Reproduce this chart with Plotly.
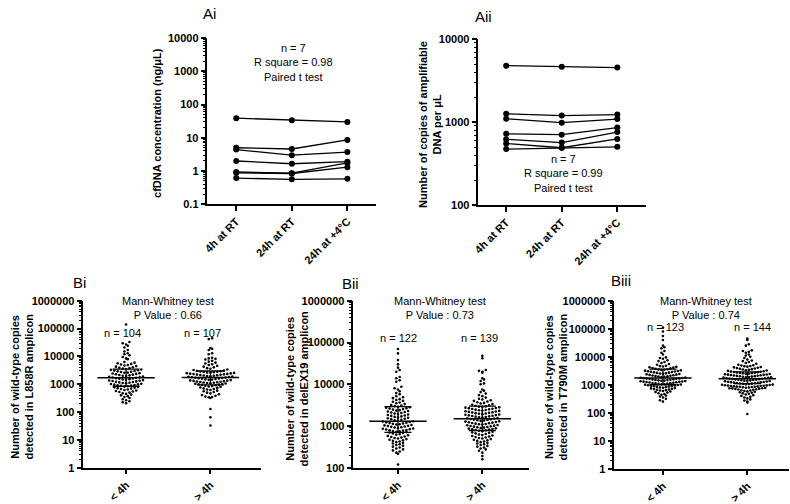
import numpy as np
import plotly.graph_objects as go

W, H = 790, 504

# ---------------- data ----------------
a_categories = ["4h at RT", "24h at RT", "24h at +4°C"]

# Ai: cfDNA concentration (ng/uL), 7 paired samples
ai_4h_rt = [39, 5.0, 4.4, 2.0, 0.93, 0.88, 0.61]
ai_24h_rt = [34, 4.6, 3.0, 1.65, 0.86, 0.84, 0.56]
ai_24h_4c = [30, 8.6, 3.7, 1.9, 1.75, 1.3, 0.58]

# Aii: copies of amplifiable DNA per uL, 7 paired samples
aii_4h_rt = [4800, 1260, 1100, 724, 622, 553, 474]
aii_24h_rt = [4640, 1200, 985, 706, 568, 492, 492]
aii_24h_4c = [4550, 1235, 1090, 862, 760, 628, 505]

b_categories = ["< 4h", "> 4h"]

# Bi: L858R amplicon
bi_lt4 = [140000, 33000, 30000, 27000, 24000, 21000, 17000, 15000, 13000, 12000, 11000, 9500, 8500, 8000,
          6300, 6000, 5700, 5400, 5150, 4900, 4700, 4500, 4300, 4100, 3950, 3800, 3650, 3520,
          3400, 3300, 3200, 3100, 3010, 2920, 2830, 2750, 2660, 2580, 2510, 2430, 2360, 2290, 2220, 2150,
          2090, 2030, 1970, 1910, 1850, 1800, 1750, 1700,
          1655, 1610, 1570, 1530, 1490, 1450, 1410, 1375, 1340, 1305, 1270, 1235, 1200, 1170, 1140, 1110,
          1080, 1050, 1025, 1000, 970, 945, 920, 895, 875, 850,
          825, 800, 775, 750, 725, 700, 675, 650, 625, 600, 575, 550, 525, 500, 475, 450, 425, 400, 375,
          350, 320, 290, 265, 245, 225, 210]
bi_gt4 = [45000, 42000, 20000, 19000, 17000, 13000, 12000, 9000, 8500, 8200, 7800,
          7000, 6500, 6000, 5600, 5250, 4900, 4600, 4300, 4050, 3800, 3600, 3400, 3250, 3100, 3000,
          2940, 2880, 2830, 2770, 2720, 2660, 2610, 2560, 2510, 2460, 2410, 2360, 2320, 2270, 2230, 2180,
          2140, 2100, 2060, 2020, 1980, 1940, 1900, 1860, 1820, 1790, 1755,
          1720, 1680, 1645, 1610, 1575, 1540, 1505, 1475, 1440, 1410, 1380, 1350, 1320, 1290, 1265, 1235,
          1210, 1185, 1160, 1135, 1110, 1085, 1060, 1040, 1015, 995, 970, 950,
          920, 890, 860, 830, 800, 770, 740, 710, 680, 650, 620, 590, 560, 530, 500, 470, 440, 410, 385,
          360, 350, 340, 320, 130, 65, 33]
bi_median = [1700, 1750]
bi_q1 = [850, 950]
bi_q3 = [3500, 3000]

# Bii: delEX19 amplicon
bii_lt4 = [70000, 55000, 38000, 30000, 25000, 22000, 20000, 15000, 14000, 12500, 11500, 8700, 8000, 7500,
           6800, 6200, 5800,
           5200, 4900, 4650, 4400, 4200, 4000, 3800, 3650, 3500, 3350, 3200, 3100, 3000, 2900,
           2820, 2750, 2680, 2610, 2540, 2470, 2400, 2340, 2280, 2220, 2160, 2100, 2050, 1995, 1940, 1890,
           1840, 1790, 1745, 1700, 1655, 1610, 1570, 1530, 1490, 1450, 1410, 1375, 1340, 1305,
           1275, 1250, 1225, 1200, 1175, 1150, 1125, 1100, 1080, 1060, 1035, 1015, 995, 975, 955, 935, 915,
           895, 875, 860, 840, 825, 805, 790, 775, 760, 745, 730, 715, 700,
           680, 660, 640, 620, 600, 580, 560, 545, 530, 515, 500, 485, 470, 455, 440, 425, 410, 395, 380,
           365, 350, 335, 320, 305, 290, 275, 260, 245, 230, 215, 120]
bii_gt4 = [48000, 42000, 22000, 21000, 20000, 19000, 14000, 13000, 12000, 10500, 10000, 7500, 7000, 6500,
           6000, 5500, 5200, 4800, 4500, 4300,
           4150, 4000, 3850, 3700, 3580, 3460, 3350, 3240, 3140, 3040, 2950,
           2900, 2850, 2800, 2750, 2700, 2650, 2600, 2555, 2510, 2465, 2420, 2380, 2340, 2300, 2260, 2220,
           2180, 2140, 2100, 2065, 2030, 1995, 1960, 1925, 1890, 1860, 1825, 1795, 1765, 1735, 1705, 1675,
           1645, 1615, 1590, 1560, 1535, 1505,
           1475, 1450, 1425, 1400, 1375, 1350, 1325, 1300, 1275, 1250, 1230, 1205, 1185, 1160, 1140, 1120,
           1100, 1080, 1060, 1040, 1020, 1000, 985, 965, 950, 930, 915, 895, 880, 865, 850, 835, 820, 805, 790,
           765, 745, 725, 705, 685, 665, 645, 625, 605, 590, 575, 560, 545, 530, 515, 500, 485, 470, 455,
           440, 425, 410, 395, 380, 365, 350, 335, 320, 305, 290, 275, 255, 230, 190, 160]
bii_median = [1300, 1500]
bii_q1 = [700, 780]
bii_q3 = [2900, 3000]

# Biii: T790M amplicon
biii_lt4 = [110000, 80000, 55000, 40000, 25000, 22000, 20000, 16000, 14000, 12000, 9500, 9000, 8500, 7500,
            7000, 6500, 6000, 5500, 5200, 4800,
            4650, 4500, 4350, 4200, 4080, 3960, 3840, 3720, 3600,
            3510, 3430, 3350, 3270, 3200, 3120, 3050, 2980, 2910, 2840, 2780, 2710, 2650, 2590, 2530, 2470,
            2410, 2360, 2300, 2250, 2200, 2150, 2100, 2050, 2000, 1955, 1910, 1870, 1825, 1785, 1750,
            1720, 1690, 1660, 1630, 1600, 1570, 1545, 1515, 1490, 1465, 1435, 1410, 1385, 1360, 1340, 1315,
            1290, 1270, 1245, 1225, 1205, 1180, 1160, 1140, 1120, 1100, 1080, 1060, 1040, 1020, 1000,
            980, 960, 940, 920, 900, 880, 860, 840, 820, 800, 780, 760, 740, 720, 700, 680, 660, 640, 620,
            600, 575, 550, 525, 500, 470, 440, 410, 380, 350, 315, 280, 250]
biii_gt4 = [45000, 40000, 28000, 25000, 17000, 16000, 15000, 14000, 12000, 11000, 10000, 9000, 8000, 7400,
            7000, 6500, 6000, 5600, 5200, 5000,
            4850, 4700, 4560, 4430, 4300, 4180, 4060, 3940, 3830, 3720, 3610, 3510, 3410, 3310, 3220, 3130,
            3040, 2950,
            2900, 2850, 2800, 2750, 2700, 2650, 2600, 2560, 2510, 2470, 2420, 2380, 2340, 2300, 2260, 2220,
            2180, 2140, 2100, 2070, 2030, 2000, 1960, 1930, 1890, 1860, 1830, 1800, 1770, 1740, 1710, 1680,
            1650, 1620,
            1590, 1560, 1530, 1510, 1480, 1455, 1430, 1400, 1380, 1355, 1330, 1305, 1285, 1260, 1240, 1220,
            1195, 1175, 1155, 1135, 1115, 1095, 1075, 1055, 1035, 1015,
            995, 980, 965, 950, 935, 920, 905, 900, 890, 875, 860, 850, 845, 830, 815, 800, 785, 770, 755,
            750, 740, 725, 710, 695, 680, 660, 640, 620, 600, 580, 560, 540, 520, 500, 475, 450, 425, 400,
            375, 350, 325, 300, 275, 250, 230, 90]
biii_median = [1750, 1650]
biii_q1 = [1000, 1100]
biii_q3 = [3600, 2900]

# ---------------- helpers ----------------
FONT = "Liberation Sans, Arial, sans-serif"


def px_x(p):
    return p / W


def px_y(p):
    return 1 - p / H


def swarm(vals, px_per_dec, px_per_unit, row_h=3.6, step=3.4):
    """Row-binned dot-plot layout (GraphPad style): points in the same
    vertical bin are spread horizontally around the category centre."""
    ys = np.log10(np.asarray(vals, float)) * px_per_dec
    rows = np.floor(ys / row_h)
    xs = np.zeros(len(ys))
    for r in np.unique(rows):
        idx = np.where(rows == r)[0]
        idx = idx[np.argsort(ys[idx])]
        n = len(idx)
        slots = (np.arange(n) - (n - 1) / 2.0) * step
        order = np.argsort(np.abs(slots) + 1e-6 * np.arange(n))
        xs[idx] = slots[order] / px_per_unit
    return xs


def minor_vals(lo, hi):
    out = []
    for e in range(lo, hi):
        for m in range(2, 10):
            out.append(m * 10.0 ** e)
    return out


def yaxis(domain, lo, hi):
    majors = [10.0 ** e for e in range(lo, hi + 1)]
    labels = [("%g" % v) if v < 1 else str(int(round(v))) for v in majors]
    return dict(domain=domain, type="log", range=[lo, hi], showline=True, linecolor="black", linewidth=1.5,
                ticks="outside", ticklen=5, tickwidth=1.5, tickcolor="black",
                tickvals=majors, ticktext=labels, showgrid=False, zeroline=False,
                tickfont=dict(family=FONT, size=11, color="black", weight="bold"),
                minor=dict(ticks="outside", ticklen=3, tickwidth=1, tickcolor="black",
                           tickvals=minor_vals(lo, hi), showgrid=False),
                fixedrange=True)


def xaxis(domain, rng, cats, anchor):
    return dict(domain=domain, range=rng, showline=True, linecolor="black", linewidth=1.5,
                ticks="outside", ticklen=5, tickwidth=1.5, tickcolor="black",
                tickvals=list(range(len(cats))), ticktext=cats, tickangle=-45,
                showgrid=False, zeroline=False, anchor=anchor,
                tickfont=dict(family=FONT, size=11, color="black", weight="bold"), fixedrange=True)


fig = go.Figure()

# ---------------- A panels ----------------
for ax, cols in (("", (ai_4h_rt, ai_24h_rt, ai_24h_4c)), ("2", (aii_4h_rt, aii_24h_rt, aii_24h_4c))):
    for j in range(len(cols[0])):
        fig.add_trace(go.Scatter(
            x=[0, 1, 2], y=[cols[0][j], cols[1][j], cols[2][j]], mode="lines+markers",
            line=dict(color="black", width=1.3), marker=dict(color="black", size=6),
            xaxis="x" + ax, yaxis="y" + ax, showlegend=False, hoverinfo="skip"))

# ---------------- B panels ----------------
b_panels = [
    ("3", (bi_lt4, bi_gt4), bi_median, bi_q1, bi_q3, 171 / 6, 3.4),
    ("4", (bii_lt4, bii_gt4), bii_median, bii_q1, bii_q3, 171 / 4, 3.4),
    ("5", (biii_lt4, biii_gt4), biii_median, biii_q1, biii_q3, 172 / 6, 3.0),
]
for ax, groups, med, q1, q3, ppd, step in b_panels:
    for gi, vals in enumerate(groups):
        xs = gi + swarm(vals, ppd, 85.0, step=step)
        fig.add_trace(go.Scatter(
            x=xs, y=vals, mode="markers", marker=dict(color="black", size=2.6, line=dict(width=0)),
            xaxis="x" + ax, yaxis="y" + ax, showlegend=False, hoverinfo="skip"))
        fig.add_trace(go.Scatter(
            x=[gi - 0.34, gi + 0.34], y=[med[gi], med[gi]], mode="lines",
            line=dict(color="black", width=1.5),
            xaxis="x" + ax, yaxis="y" + ax, showlegend=False, hoverinfo="skip"))
        fig.add_trace(go.Scatter(
            x=[gi, gi, None, gi - 0.16, gi + 0.16, None, gi - 0.16, gi + 0.16],
            y=[q1[gi], q3[gi], None, q1[gi], q1[gi], None, q3[gi], q3[gi]], mode="lines",
            line=dict(color="black", width=1.3),
            xaxis="x" + ax, yaxis="y" + ax, showlegend=False, hoverinfo="skip"))

layout = dict(
    width=W, height=H, margin=dict(l=0, r=0, t=0, b=0),
    paper_bgcolor="white", plot_bgcolor="white", showlegend=False,
    xaxis=xaxis([px_x(203), px_x(373)], [-0.518, 2.518], a_categories, "y"),
    yaxis=yaxis([px_y(203), px_y(33)], -1, 4),
    xaxis2=xaxis([px_x(476), px_x(645)], [-0.5, 2.518], a_categories, "y2"),
    yaxis2=yaxis([px_y(204), px_y(34)], 2, 4),
    xaxis3=xaxis([px_x(78), px_x(257)], [-0.506, 1.6], b_categories, "y3"),
    yaxis3=yaxis([px_y(473), px_y(302)], 0, 6),
    xaxis4=xaxis([px_x(350), px_x(527)], [-0.529, 1.553], b_categories, "y4"),
    yaxis4=yaxis([px_y(473), px_y(302)], 2, 6),
    xaxis5=xaxis([px_x(613), px_x(789)], [-0.576, 1.494], b_categories, "y5"),
    yaxis5=yaxis([px_y(474), px_y(302)], 0, 6),
)
for k in ("yaxis", "yaxis2", "yaxis3", "yaxis4", "yaxis5"):
    n = k.replace("yaxis", "")
    layout[k]["anchor"] = "x" + n
fig.update_layout(**layout)


def ann(text, x, y, size=11, bold=False, angle=0):
    fig.add_annotation(text=text, x=px_x(x), y=px_y(y), xref="paper", yref="paper",
                       xanchor="center", yanchor="middle", showarrow=False, textangle=angle,
                       font=dict(family=FONT, size=size, color="black", weight="bold" if bold else "normal"))


# panel titles
ann("Ai", 205, 8, size=15)
ann("Aii", 481, 11, size=15)
ann("Bi", 74, 283, size=15)
ann("Bii", 347, 284, size=15)
ann("Biii", 620, 281, size=15)

# axis titles
ann("cfDNA concentration (ng/μL)", 152, 120, size=11, bold=True, angle=-90)
ann("Number of copies of amplifiable<br>DNA per μL", 427, 121, size=11, bold=True, angle=-90)
ann("Number of wild-type copies<br>detected in L858R amplicon", 16, 390, size=11, bold=True, angle=-90)
ann("Number of wild-type copies<br>detected in delEX19 amplicon", 293, 392, size=11, bold=True, angle=-90)
ann("Number of wild-type copies<br>detected in T790M amplicon", 554, 390, size=11, bold=True, angle=-90)

# statistics text
ann("n = 7<br>R square = 0.98<br>Paired t test", 290, 58)
ann("n = 7<br>R square = 0.99<br>Paired t test", 562, 172)
ann("Mann-Whitney test<br>P Value : 0.66", 163, 309)
ann("n = 104", 117, 335)
ann("n = 107", 198, 335)
ann("Mann-Whitney test<br>P Value : 0.73", 437, 309)
ann("n = 122", 395, 340)
ann("n = 139", 477, 340)
ann("Mann-Whitney test<br>P Value : 0.74", 705, 309)
ann("n = 123", 665, 329)
ann("n = 144", 752, 329)

fig.write_html("out.html", config={"displayModeBar": False},
               post_script="document.body.style.margin='0';document.body.style.overflow='hidden';")
